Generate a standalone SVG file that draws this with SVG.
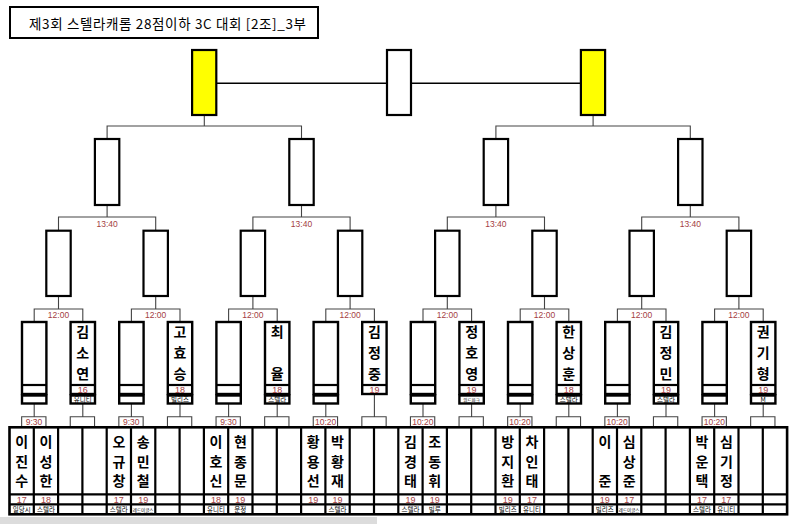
<svg xmlns="http://www.w3.org/2000/svg" width="800" height="524" viewBox="0 0 800 524">
<style>
.box{fill:#fff;stroke:#000;stroke-width:2.2}
.yel{fill:#ffff00;stroke:#000;stroke-width:2.2}
.b4{fill:#fff;stroke:#000;stroke-width:2.4}
.ln{fill:none;stroke:#000;stroke-width:2.2}
.con{fill:none;stroke:#444;stroke-width:1.1}
.fin{fill:none;stroke:#000;stroke-width:1.4}
.tl{font-family:"Liberation Sans","Noto Sans",sans-serif;font-size:8.5px;fill:#a4403f;text-anchor:middle}
.nm{font-family:"Noto Sans CJK KR",sans-serif;font-weight:bold;font-size:14px;fill:#000;text-anchor:middle}
.sc{font-family:"Liberation Sans","Noto Sans",sans-serif;font-size:9px;fill:#a4403f;text-anchor:middle}
.tm{font-family:"Noto Sans CJK KR",sans-serif;font-size:6.5px;fill:#000;text-anchor:middle}
.tms{font-family:"Noto Sans CJK KR",sans-serif;font-size:4.5px;fill:#000;text-anchor:middle}
.ttl{font-family:"Noto Sans CJK KR",sans-serif;font-size:13.5px;fill:#000}
</style>
<rect width="800" height="524" fill="#fff"/>
<rect x="0" y="517" width="377" height="7" fill="#dcdcdc"/>
<g id="title">
<rect x="10" y="7" width="308" height="31" fill="#fff" stroke="#000" stroke-width="2"/>
<text class="ttl" x="29" y="28.5" textLength="277" lengthAdjust="spacing">제3회 스텔라캐롬 28점이하 3C 대회 [2조]_3부</text>
</g>
<g id="connectors">
<path class="fin" d="M216.3,83.3H387M411,83.3H580.9"/>
<path class="con" d="M204.3,115V126M107.1,139V126H301.5V139M593.1,115V126M495.9,139V126H690.3V139"/>
<path class="con" d="M107.1,205V217M58.5,230.7V217H155.7V230.7M301.5,205V217M252.9,230.7V217H350.1V230.7M495.9,205V217M447.3,230.7V217H544.5V230.7M690.3,205V217M641.7,230.7V217H738.9V230.7"/>
<path class="con" d="M58.5,296V309M34.2,322V309H82.8V322M155.7,296V309M131.4,322V309H180V322M252.9,296V309M228.6,322V309H277.2V322M350.1,296V309M325.8,322V309H374.4V322M447.3,296V309M423,322V309H471.6V322M544.5,296V309M520.2,322V309H568.8V322M641.7,296V309M617.4,322V309H666V322M738.9,296V309M714.6,322V309H763.2V322"/>
<path class="con" stroke="#222" d="M34.2,403.5V416.7M21.65,427.3V416.7H45.95V427.3M82.8,403.5V416.7M70.25,427.3V416.7H94.55V427.3M131.4,403.5V416.7M118.85,427.3V416.7H143.15V427.3M180,403.5V416.7M167.45,427.3V416.7H191.75V427.3M228.6,403.5V416.7M216.05,427.3V416.7H240.35V427.3M277.2,403.5V416.7M264.65,427.3V416.7H288.95V427.3M325.8,403.5V416.7M313.25,427.3V416.7H337.55V427.3M374.4,394V416.7M361.85,427.3V416.7H386.15V427.3M423,403.5V416.7M410.45,427.3V416.7H434.75V427.3M471.6,403.5V416.7M459.05,427.3V416.7H483.35V427.3M520.2,403.5V416.7M507.65,427.3V416.7H531.95V427.3M568.8,403.5V416.7M556.25,427.3V416.7H580.55V427.3M617.4,403.5V416.7M604.85,427.3V416.7H629.15V427.3M666,403.5V416.7M653.45,427.3V416.7H677.75V427.3M714.6,403.5V416.7M702.05,427.3V416.7H726.35V427.3M763.2,403.5V416.7M750.65,427.3V416.7H774.95V427.3"/>
<g class="tl">
<text x="107.1" y="227">13:40</text><text x="301.5" y="227">13:40</text><text x="495.9" y="227">13:40</text><text x="690.3" y="227">13:40</text>
<text x="58.5" y="318">12:00</text><text x="155.7" y="318">12:00</text><text x="252.9" y="318">12:00</text><text x="350.1" y="318">12:00</text><text x="447.3" y="318">12:00</text><text x="544.5" y="318">12:00</text><text x="641.7" y="318">12:00</text><text x="738.9" y="318">12:00</text>
<text x="34" y="425">9:30</text><text x="131.2" y="425">9:30</text><text x="228.4" y="425">9:30</text><text x="325.6" y="425">10:20</text><text x="422.8" y="425">10:20</text><text x="520" y="425">10:20</text><text x="617.2" y="425">10:20</text><text x="714.4" y="425">10:20</text>
</g>
</g>
<g id="final"><rect class="box" x="387" y="50" width="24" height="65"/></g>
<g id="sf-1"><rect class="yel" x="192.1" y="50" width="24.2" height="65"/></g>
<g id="sf-2"><rect class="yel" x="580.9" y="50" width="24.2" height="65"/></g>
<g id="qf-1"><rect class="box" x="94.9" y="139" width="24.4" height="66"/></g>
<g id="qf-2"><rect class="box" x="289.3" y="139" width="24.4" height="66"/></g>
<g id="qf-3"><rect class="box" x="483.7" y="139" width="24.4" height="66"/></g>
<g id="qf-4"><rect class="box" x="678.1" y="139" width="24.4" height="66"/></g>
<g id="r8-1"><rect class="box" x="46.3" y="230.7" width="24.4" height="65.3"/></g>
<g id="r8-2"><rect class="box" x="143.5" y="230.7" width="24.4" height="65.3"/></g>
<g id="r8-3"><rect class="box" x="240.7" y="230.7" width="24.4" height="65.3"/></g>
<g id="r8-4"><rect class="box" x="337.9" y="230.7" width="24.4" height="65.3"/></g>
<g id="r8-5"><rect class="box" x="435.1" y="230.7" width="24.4" height="65.3"/></g>
<g id="r8-6"><rect class="box" x="532.3" y="230.7" width="24.4" height="65.3"/></g>
<g id="r8-7"><rect class="box" x="629.5" y="230.7" width="24.4" height="65.3"/></g>
<g id="r8-8"><rect class="box" x="726.7" y="230.7" width="24.4" height="65.3"/></g>
<g id="r16-1"><rect class="b4" x="22" y="322" width="24.4" height="72"/><path class="ln" d="M22,385H46.4"/><rect class="b4" x="22" y="395.5" width="24.4" height="8"/></g>
<g id="r16-2"><rect class="b4" x="70.6" y="322" width="24.4" height="72"/><path class="ln" d="M70.6,385H95"/><rect class="b4" x="70.6" y="395.5" width="24.4" height="8"/>
<text class="nm"><tspan x="82.8" y="337">김</tspan><tspan x="82.8" y="358">소</tspan><tspan x="82.8" y="378.5">연</tspan></text><text class="sc" x="82.8" y="392.5">16</text><text class="tm" x="82.8" y="402">유니티</text></g>
<g id="r16-3"><rect class="b4" x="119.2" y="322" width="24.4" height="72"/><path class="ln" d="M119.2,385H143.6"/><rect class="b4" x="119.2" y="395.5" width="24.4" height="8"/></g>
<g id="r16-4"><rect class="b4" x="167.8" y="322" width="24.4" height="72"/><path class="ln" d="M167.8,385H192.2"/><rect class="b4" x="167.8" y="395.5" width="24.4" height="8"/>
<text class="nm"><tspan x="180" y="337">고</tspan><tspan x="180" y="358">효</tspan><tspan x="180" y="378.5">승</tspan></text><text class="sc" x="180" y="392.5">18</text><text class="tm" x="180" y="402">빌리즈</text></g>
<g id="r16-5"><rect class="b4" x="216.4" y="322" width="24.4" height="72"/><path class="ln" d="M216.4,385H240.8"/><rect class="b4" x="216.4" y="395.5" width="24.4" height="8"/></g>
<g id="r16-6"><rect class="b4" x="265" y="322" width="24.4" height="72"/><path class="ln" d="M265,385H289.4"/><rect class="b4" x="265" y="395.5" width="24.4" height="8"/>
<text class="nm"><tspan x="277.2" y="337">최</tspan><tspan x="277.2" y="378.5">율</tspan></text><text class="sc" x="277.2" y="392.5">18</text><text class="tm" x="277.2" y="402">스텔라</text></g>
<g id="r16-7"><rect class="b4" x="313.6" y="322" width="24.4" height="72"/><path class="ln" d="M313.6,385H338"/><rect class="b4" x="313.6" y="395.5" width="24.4" height="8"/></g>
<g id="r16-8"><rect class="b4" x="362.2" y="322" width="24.4" height="72"/><path class="ln" d="M362.2,385H386.6"/>
<text class="nm"><tspan x="374.4" y="337">김</tspan><tspan x="374.4" y="358">정</tspan><tspan x="374.4" y="378.5">중</tspan></text><text class="sc" x="374.4" y="392.5">19</text></g>
<g id="r16-9"><rect class="b4" x="410.8" y="322" width="24.4" height="72"/><path class="ln" d="M410.8,385H435.2"/><rect class="b4" x="410.8" y="395.5" width="24.4" height="8"/></g>
<g id="r16-10"><rect class="b4" x="459.4" y="322" width="24.4" height="72"/><path class="ln" d="M459.4,385H483.8"/><rect class="b4" x="459.4" y="395.5" width="24.4" height="8"/>
<text class="nm"><tspan x="471.6" y="337">정</tspan><tspan x="471.6" y="358">호</tspan><tspan x="471.6" y="378.5">영</tspan></text><text class="sc" x="471.6" y="392.5">19</text><text class="tms" x="471.6" y="401.5">위드파크</text></g>
<g id="r16-11"><rect class="b4" x="508" y="322" width="24.4" height="72"/><path class="ln" d="M508,385H532.4"/><rect class="b4" x="508" y="395.5" width="24.4" height="8"/></g>
<g id="r16-12"><rect class="b4" x="556.6" y="322" width="24.4" height="72"/><path class="ln" d="M556.6,385H581"/><rect class="b4" x="556.6" y="395.5" width="24.4" height="8"/>
<text class="nm"><tspan x="568.8" y="337">한</tspan><tspan x="568.8" y="358">상</tspan><tspan x="568.8" y="378.5">훈</tspan></text><text class="sc" x="568.8" y="392.5">18</text><text class="tm" x="568.8" y="402">스텔라</text></g>
<g id="r16-13"><rect class="b4" x="605.2" y="322" width="24.4" height="72"/><path class="ln" d="M605.2,385H629.6"/><rect class="b4" x="605.2" y="395.5" width="24.4" height="8"/></g>
<g id="r16-14"><rect class="b4" x="653.8" y="322" width="24.4" height="72"/><path class="ln" d="M653.8,385H678.2"/><rect class="b4" x="653.8" y="395.5" width="24.4" height="8"/>
<text class="nm"><tspan x="666" y="337">김</tspan><tspan x="666" y="358">정</tspan><tspan x="666" y="378.5">민</tspan></text><text class="sc" x="666" y="392.5">19</text><text class="tm" x="666" y="402">스텔라</text></g>
<g id="r16-15"><rect class="b4" x="702.4" y="322" width="24.4" height="72"/><path class="ln" d="M702.4,385H726.8"/><rect class="b4" x="702.4" y="395.5" width="24.4" height="8"/></g>
<g id="r16-16"><rect class="b4" x="751" y="322" width="24.4" height="72"/><path class="ln" d="M751,385H775.4"/><rect class="b4" x="751" y="395.5" width="24.4" height="8"/>
<text class="nm"><tspan x="763.2" y="337">권</tspan><tspan x="763.2" y="358">기</tspan><tspan x="763.2" y="378.5">형</tspan></text><text class="sc" x="763.2" y="392.5">19</text><text class="tm" x="763.2" y="402">M</text></g>
<g id="player-table">
<rect x="9.5" y="427.3" width="777.6" height="87" fill="none" stroke="#000" stroke-width="2.6"/>
<path class="ln" d="M9.5,494.3H787.1M9.5,504.3H787.1"/>
<path class="ln" d="M33.8,427.3V514.3M58.1,427.3V514.3M82.4,427.3V514.3M106.7,427.3V514.3M131,427.3V514.3M155.3,427.3V514.3M179.6,427.3V514.3M203.9,427.3V514.3M228.2,427.3V514.3M252.5,427.3V514.3M276.8,427.3V514.3M301.1,427.3V514.3M325.4,427.3V514.3M349.7,427.3V514.3M374,427.3V514.3M398.3,427.3V514.3M422.6,427.3V514.3M446.9,427.3V514.3M471.2,427.3V514.3M495.5,427.3V514.3M519.8,427.3V514.3M544.1,427.3V514.3M568.4,427.3V514.3M592.7,427.3V514.3M617,427.3V514.3M641.3,427.3V514.3M665.6,427.3V514.3M689.9,427.3V514.3M714.2,427.3V514.3M738.5,427.3V514.3M762.8,427.3V514.3"/>
</g>
<g id="p01"><text class="nm"><tspan x="21.65" y="446.5">이</tspan><tspan x="21.65" y="466.5">진</tspan><tspan x="21.65" y="486">수</tspan></text><text class="sc" x="21.65" y="502.5">17</text><text class="tm" x="21.65" y="512">일당시</text></g>
<g id="p02"><text class="nm"><tspan x="45.95" y="446.5">이</tspan><tspan x="45.95" y="466.5">성</tspan><tspan x="45.95" y="486">한</tspan></text><text class="sc" x="45.95" y="502.5">18</text><text class="tm" x="45.95" y="512">스텔라</text></g>
<g id="p03"><text class="nm"><tspan x="118.85" y="446.5">오</tspan><tspan x="118.85" y="466.5">규</tspan><tspan x="118.85" y="486">창</tspan></text><text class="sc" x="118.85" y="502.5">17</text><text class="tm" x="118.85" y="512">스텔라</text></g>
<g id="p04"><text class="nm"><tspan x="143.15" y="446.5">송</tspan><tspan x="143.15" y="466.5">민</tspan><tspan x="143.15" y="486">철</tspan></text><text class="sc" x="143.15" y="502.5">19</text><text class="tms" x="143.15" y="511.5">레드이글스</text></g>
<g id="p05"><text class="nm"><tspan x="216.05" y="446.5">이</tspan><tspan x="216.05" y="466.5">호</tspan><tspan x="216.05" y="486">신</tspan></text><text class="sc" x="216.05" y="502.5">18</text><text class="tm" x="216.05" y="512">유니티</text></g>
<g id="p06"><text class="nm"><tspan x="240.35" y="446.5">현</tspan><tspan x="240.35" y="466.5">종</tspan><tspan x="240.35" y="486">문</tspan></text><text class="sc" x="240.35" y="502.5">19</text><text class="tm" x="240.35" y="512">운정</text></g>
<g id="p07"><text class="nm"><tspan x="313.25" y="446.5">황</tspan><tspan x="313.25" y="466.5">용</tspan><tspan x="313.25" y="486">선</tspan></text><text class="sc" x="313.25" y="502.5">19</text></g>
<g id="p08"><text class="nm"><tspan x="337.55" y="446.5">박</tspan><tspan x="337.55" y="466.5">황</tspan><tspan x="337.55" y="486">재</tspan></text><text class="sc" x="337.55" y="502.5">19</text><text class="tm" x="337.55" y="512">스텔라</text></g>
<g id="p09"><text class="nm"><tspan x="410.45" y="446.5">김</tspan><tspan x="410.45" y="466.5">경</tspan><tspan x="410.45" y="486">태</tspan></text><text class="sc" x="410.45" y="502.5">19</text><text class="tm" x="410.45" y="512">스텔라</text></g>
<g id="p10"><text class="nm"><tspan x="434.75" y="446.5">조</tspan><tspan x="434.75" y="466.5">동</tspan><tspan x="434.75" y="486">휘</tspan></text><text class="sc" x="434.75" y="502.5">19</text><text class="tm" x="434.75" y="512">빌루</text></g>
<g id="p11"><text class="nm"><tspan x="507.65" y="446.5">방</tspan><tspan x="507.65" y="466.5">지</tspan><tspan x="507.65" y="486">환</tspan></text><text class="sc" x="507.65" y="502.5">19</text><text class="tm" x="507.65" y="512">빌리즈</text></g>
<g id="p12"><text class="nm"><tspan x="531.95" y="446.5">차</tspan><tspan x="531.95" y="466.5">인</tspan><tspan x="531.95" y="486">태</tspan></text><text class="sc" x="531.95" y="502.5">17</text><text class="tm" x="531.95" y="512">유니티</text></g>
<g id="p13"><text class="nm"><tspan x="604.85" y="446.5">이</tspan><tspan x="604.85" y="486">준</tspan></text><text class="sc" x="604.85" y="502.5">19</text><text class="tm" x="604.85" y="512">빌리즈</text></g>
<g id="p14"><text class="nm"><tspan x="629.15" y="446.5">심</tspan><tspan x="629.15" y="466.5">상</tspan><tspan x="629.15" y="486">준</tspan></text><text class="sc" x="629.15" y="502.5">17</text><text class="tms" x="629.15" y="511.5">레드이글스</text></g>
<g id="p15"><text class="nm"><tspan x="702.05" y="446.5">박</tspan><tspan x="702.05" y="466.5">운</tspan><tspan x="702.05" y="486">택</tspan></text><text class="sc" x="702.05" y="502.5">17</text><text class="tm" x="702.05" y="512">스텔라</text></g>
<g id="p16"><text class="nm"><tspan x="726.35" y="446.5">심</tspan><tspan x="726.35" y="466.5">기</tspan><tspan x="726.35" y="486">정</tspan></text><text class="sc" x="726.35" y="502.5">17</text><text class="tm" x="726.35" y="512">유니티</text></g>
</svg>
